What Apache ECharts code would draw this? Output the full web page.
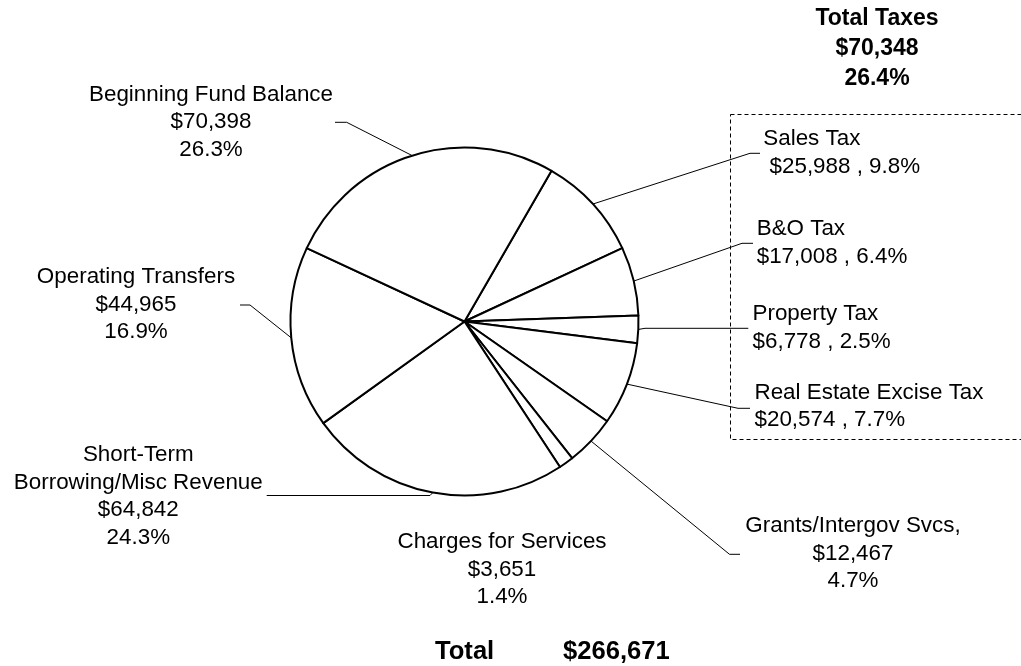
<!DOCTYPE html>
<html><head><meta charset="utf-8">
<script src="https://cdn.jsdelivr.net/npm/echarts@6/dist/echarts.min.js"></script>
<style>html,body{margin:0;padding:0;background:#fff;} #c{width:1021px;height:666px;}</style>
</head><body><div id="c"></div>
<script>
// ---- data ----
const categories = ['Sales Tax', 'B&O Tax', 'Property Tax', 'Real Estate Excise Tax', 'Grants/Intergov Svcs,',
  'Charges for Services', 'Short-Term\nBorrowing/Misc Revenue', 'Operating Transfers', 'Beginning Fund Balance'];
const values = [25988, 17008, 6778, 20574, 12467, 3651, 64842, 44965, 70398];
const percents = ['9.8', '6.4', '2.5', '7.7', '4.7', '1.4', '24.3', '16.9', '26.3'];
const totalTaxesLabel = 'Total Taxes';
const totalTaxesValue = 70348;
const totalTaxesPercent = '26.4';
const grandTotalLabel = 'Total';
const grandTotal = 266671;

// ---- layout (positions / styles only) ----
const FONT = '"Liberation Sans", Arial, sans-serif';
const labelPlacement = [
  {x: 763.3, y: 153,   align: 'left', inline: true, lead: ' ', elbow: [750, 153.3], end: [760, 153.3]},
  {x: 756.7, y: 243,   align: 'left', inline: true, elbow: [742, 243.3], end: [753, 243.3]},
  {x: 752.5, y: 327.5, align: 'left', inline: true, elbow: [645, 328.3], end: [748.3, 328.3]},
  {x: 754.5, y: 406.4, align: 'left', inline: true, elbow: [738, 408.3], end: [750, 408.3]},
  {x: 853,   y: 553.5, align: 'center', elbow: [729.5, 554.3], end: [740, 554.3]},
  {x: 502,   y: 569.5, align: 'center', noLine: true},
  {x: 138.3, y: 496.3, align: 'center', elbow: [430, 495.5], end: [266.7, 495.5]},
  {x: 136,   y: 304.5, align: 'center', elbow: [250, 305], end: [240, 305]},
  {x: 211,   y: 122.3, align: 'center', elbow: [346.7, 122.3], end: [335, 122.3]}
];

function money(v) { return '$' + v.toLocaleString('en-US'); }

const chart = echarts.init(document.getElementById('c'), null, {renderer: 'canvas'});
chart.setOption({
  animation: false,
  backgroundColor: '#fff',
  series: [{
    type: 'pie',
    center: [464.5, 321.5],
    radius: 174,
    startAngle: 60,
    clockwise: true,
    avoidLabelOverlap: false,
    silent: true,
    emphasis: {disabled: true},
    itemStyle: {color: '#fff', borderColor: '#000', borderWidth: 2},
    label: {
      show: true,
      position: 'outside',
      color: '#000',
      fontFamily: FONT,
      fontSize: 22.4,
      lineHeight: 27.7,
      formatter: function (p) {
        const i = p.dataIndex, c = labelPlacement[i];
        const v = money(values[i]);
        return c.inline ? p.name + '\n' + (c.lead || '') + v + ' , ' + percents[i] + '%'
                        : p.name + '\n' + v + '\n' + percents[i] + '%';
      }
    },
    labelLine: {show: true, length: 10, length2: 10, lineStyle: {color: '#000', width: 1}},
    labelLayout: function (params) {
      const c = labelPlacement[params.dataIndex];
      const out = {x: c.x, y: c.y, align: c.align, verticalAlign: 'middle'};
      if (!c.noLine && params.labelLinePoints) {
        out.labelLinePoints = [params.labelLinePoints[0], c.elbow, c.end];
      }
      return out;
    },
    data: categories.map(function (n, i) {
      const d = {name: n, value: values[i]};
      if (labelPlacement[i].noLine) d.labelLine = {show: false};
      return d;
    })
  }],
  graphic: [
    {type: 'rect', silent: true, shape: {x: 730.5, y: 114.5, width: 320, height: 325},
     style: {fill: 'none', stroke: '#000', lineWidth: 1, lineDash: [4, 3]}},
    {type: 'text', silent: true, x: 877, y: 48.5,
     style: {text: totalTaxesLabel + '\n' + money(totalTaxesValue) + '\n' + totalTaxesPercent + '%',
       fill: '#000', font: 'bold 23px ' + FONT, lineHeight: 29.7, align: 'center', verticalAlign: 'middle'}},
    {type: 'text', silent: true, x: 435, y: 652,
     style: {text: grandTotalLabel, fill: '#000', font: 'bold 25.6px ' + FONT, align: 'left', verticalAlign: 'middle'}},
    {type: 'text', silent: true, x: 563, y: 652,
     style: {text: money(grandTotal), fill: '#000', font: 'bold 25.6px ' + FONT, align: 'left', verticalAlign: 'middle'}}
  ]
});
</script>
</body></html>
